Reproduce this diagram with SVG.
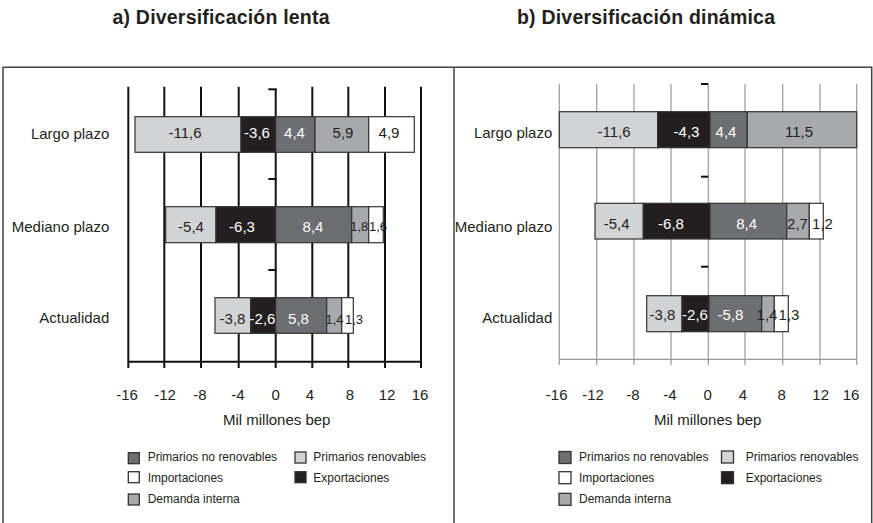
<svg xmlns="http://www.w3.org/2000/svg" width="873" height="523" viewBox="0 0 873 523">
<style>
text{font-family:"Liberation Sans",Arial,sans-serif;fill:#231f20}
.title{font-size:19.5px;font-weight:bold;text-anchor:middle}
.row{font-size:15px;text-anchor:end}
.tick{font-size:15px;text-anchor:middle}
.axt{font-size:15px;text-anchor:middle}
.lg{font-size:12px}
.bl{font-size:15px;text-anchor:middle}
.bs{font-size:13px;text-anchor:middle}
.bw{font-size:15px;text-anchor:middle;fill:#ffffff}
.seg{stroke:#333;stroke-width:1.2}
.lt{fill:#d1d3d4}.bk{fill:#231f20}.dk{fill:#6d6e71}.md{fill:#a7a9ac}.wh{fill:#ffffff}
.gridL{stroke:#111;stroke-width:2}
.gridR{stroke:#999;stroke-width:1.2}
.tk{stroke:#111;stroke-width:2}
.sq{stroke:#333;stroke-width:1.3}
</style>
<rect width="873" height="523" fill="#fff"/>
<g id="frame" fill="none" stroke="#444" stroke-width="1.5">
<polyline points="3,523 3,67.3 871.7,67.3 871.7,523"/>
<line x1="454" y1="67.3" x2="454" y2="523"/>
</g>
<text class="title" x="221" y="23.5" textLength="217">a) Diversificación lenta</text>
<text class="title" x="646" y="23.5" textLength="258">b) Diversificación dinámica</text>

<!-- LEFT CHART -->
<g id="gridLeft">
<line class="gridL" x1="128.3" y1="86.7" x2="128.3" y2="368"/>
<line class="gridL" x1="164.3" y1="86.7" x2="164.3" y2="368"/>
<line class="gridL" x1="201" y1="86.7" x2="201" y2="368"/>
<line class="gridL" x1="238.7" y1="86.7" x2="238.7" y2="368"/>
<line class="gridL" x1="275.7" y1="89.3" x2="275.7" y2="368"/>
<line class="gridL" x1="312.3" y1="86.7" x2="312.3" y2="368"/>
<line class="gridL" x1="348.3" y1="86.7" x2="348.3" y2="368"/>
<line class="gridL" x1="385" y1="86.7" x2="385" y2="368"/>
<line class="gridL" x1="421" y1="86.7" x2="421" y2="368"/>
<line class="gridL" x1="128.3" y1="361.7" x2="421" y2="361.7"/>
<line class="tk" x1="268.3" y1="89.3" x2="276.7" y2="89.3"/>
<line class="tk" x1="268.3" y1="179" x2="276.7" y2="179"/>
<line class="tk" x1="268.3" y1="270" x2="276.7" y2="270"/>
</g>
<g id="barL-largo">
<rect class="seg lt" x="135" y="116.7" width="106" height="35.6"/>
<rect class="seg bk" x="241" y="116.7" width="34.7" height="35.6"/>
<rect class="seg dk" x="275.7" y="116.7" width="39.3" height="35.6"/>
<rect class="seg md" x="315" y="116.7" width="53.7" height="35.6"/>
<rect class="seg wh" x="368.7" y="116.7" width="45.6" height="35.6"/>
<text class="row" x="109.3" y="139">Largo plazo</text>
<text class="bl" x="185" y="137.5">-11,6</text>
<text class="bw" x="257" y="137.5">-3,6</text>
<text class="bw" x="294.5" y="137.5">4,4</text>
<text class="bl" x="343" y="137.5">5,9</text>
<text class="bl" x="389" y="137.5">4,9</text>
</g>
<g id="barL-mediano">
<rect class="seg lt" x="165.7" y="206.7" width="50.3" height="36"/>
<rect class="seg bk" x="216" y="206.7" width="59.7" height="36"/>
<rect class="seg dk" x="275.7" y="206.7" width="76" height="36"/>
<rect class="seg md" x="351.7" y="206.7" width="17" height="36"/>
<rect class="seg wh" x="368.7" y="206.7" width="14.6" height="36"/>
<text class="row" x="109.3" y="231.7">Mediano plazo</text>
<text class="bl" x="191" y="231.5">-5,4</text>
<text class="bw" x="242" y="231.5">-6,3</text>
<text class="bw" x="313" y="231.5">8,4</text>
<text class="bs" x="359.3" y="231">1,8</text>
<text class="bs" x="378" y="231">1,6</text>
</g>
<g id="barL-actualidad">
<rect class="seg lt" x="215" y="297.7" width="35.7" height="35.6"/>
<rect class="seg bk" x="250.7" y="297.7" width="25" height="35.6"/>
<rect class="seg dk" x="275.7" y="297.7" width="51" height="35.6"/>
<rect class="seg md" x="326.7" y="297.7" width="15" height="35.6"/>
<rect class="seg wh" x="341.7" y="297.7" width="11.6" height="35.6"/>
<text class="row" x="109.3" y="323.3">Actualidad</text>
<text class="bl" x="232.5" y="324">-3,8</text>
<text class="bw" x="262.5" y="324">-2,6</text>
<text class="bw" x="298.5" y="324">5,8</text>
<text class="bs" x="334.5" y="323.5">1,4</text>
<text class="bs" x="354" y="323.5">1,3</text>
</g>
<g id="axisL">
<text class="tick" x="127" y="400">-16</text>
<text class="tick" x="165" y="400">-12</text>
<text class="tick" x="200" y="400">-8</text>
<text class="tick" x="238" y="400">-4</text>
<text class="tick" x="275.7" y="400">0</text>
<text class="tick" x="310" y="400">4</text>
<text class="tick" x="350" y="400">8</text>
<text class="tick" x="387" y="400">12</text>
<text class="tick" x="420" y="400">16</text>
<text class="axt" x="276.7" y="425">Mil millones bep</text>
</g>
<g id="legendL">
<rect class="sq dk" x="128.3" y="452.7" width="11" height="11"/>
<text class="lg" x="147.7" y="460.5">Primarios no renovables</text>
<rect class="sq lt" x="295" y="452" width="11" height="11"/>
<text class="lg" x="313.3" y="460.5">Primarios renovables</text>
<rect class="sq wh" x="128.3" y="471.7" width="11" height="11"/>
<text class="lg" x="147.7" y="481.5">Importaciones</text>
<rect class="sq bk" x="295" y="471.7" width="11" height="11"/>
<text class="lg" x="313.3" y="481.5">Exportaciones</text>
<rect class="sq md" x="128.3" y="494" width="11" height="11"/>
<text class="lg" x="147.7" y="503">Demanda interna</text>
</g>

<!-- RIGHT CHART -->
<g id="gridRight">
<line class="gridR" x1="559.3" y1="84" x2="559.3" y2="365"/>
<line class="gridR" x1="596.7" y1="84" x2="596.7" y2="365"/>
<line class="gridR" x1="634" y1="84" x2="634" y2="365"/>
<line class="gridR" x1="671" y1="84" x2="671" y2="365"/>
<line class="gridR" x1="708.3" y1="84" x2="708.3" y2="365"/>
<line class="gridR" x1="745" y1="84" x2="745" y2="365"/>
<line class="gridR" x1="782.7" y1="84" x2="782.7" y2="365"/>
<line class="gridR" x1="820" y1="84" x2="820" y2="365"/>
<line class="gridR" x1="856.7" y1="84" x2="856.7" y2="365"/>
<line class="gridR" x1="559.3" y1="359.3" x2="856.7" y2="359.3"/>
<line class="tk" x1="701" y1="84" x2="708.3" y2="84"/>
<line class="tk" x1="701" y1="176.7" x2="708.3" y2="176.7"/>
<line class="tk" x1="701" y1="266.7" x2="708.3" y2="266.7"/>
</g>
<g id="barR-largo">
<rect class="seg lt" x="559.3" y="111.7" width="98.4" height="36"/>
<rect class="seg bk" x="657.7" y="111.7" width="52.3" height="36"/>
<rect class="seg dk" x="710" y="111.7" width="37.3" height="36"/>
<rect class="seg md" x="747.3" y="111.7" width="109.4" height="36"/>
<text class="row" x="552.3" y="138">Largo plazo</text>
<text class="bl" x="614" y="137">-11,6</text>
<text class="bw" x="686.5" y="137">-4,3</text>
<text class="bw" x="726" y="137">4,4</text>
<text class="bl" x="799" y="137">11,5</text>
</g>
<g id="barR-mediano">
<rect class="seg lt" x="595" y="203.3" width="48.3" height="35.7"/>
<rect class="seg bk" x="643.3" y="203.3" width="66.7" height="35.7"/>
<rect class="seg dk" x="710" y="203.3" width="76.7" height="35.7"/>
<rect class="seg md" x="786.7" y="203.3" width="22.6" height="35.7"/>
<rect class="seg wh" x="809.3" y="203.3" width="14" height="35.7"/>
<text class="row" x="552.3" y="231.5">Mediano plazo</text>
<text class="bl" x="616.7" y="228.5">-5,4</text>
<text class="bw" x="671" y="228.5">-6,8</text>
<text class="bw" x="746.7" y="228.5">8,4</text>
<text class="bl" x="797.5" y="228.5">2,7</text>
<text class="bl" x="822.5" y="228.5">1,2</text>
</g>
<g id="barR-actualidad">
<rect class="seg lt" x="646.7" y="295.7" width="35.3" height="36"/>
<rect class="seg bk" x="682" y="295.7" width="27" height="36"/>
<rect class="seg dk" x="709" y="295.7" width="52.7" height="36"/>
<rect class="seg md" x="761.7" y="295.7" width="12.6" height="36"/>
<rect class="seg wh" x="774.3" y="295.7" width="14" height="36"/>
<text class="row" x="552.3" y="323">Actualidad</text>
<text class="bl" x="662.5" y="320">-3,8</text>
<text class="bw" x="695" y="320">-2,6</text>
<text class="bw" x="730.5" y="320">-5,8</text>
<text class="bl" x="767" y="320">1,4</text>
<text class="bl" x="789" y="320">1,3</text>
</g>
<g id="axisR">
<text class="tick" x="556.7" y="399.5">-16</text>
<text class="tick" x="593" y="399.5">-12</text>
<text class="tick" x="633" y="399.5">-8</text>
<text class="tick" x="670" y="399.5">-4</text>
<text class="tick" x="707.7" y="399.5">0</text>
<text class="tick" x="743" y="399.5">4</text>
<text class="tick" x="781.7" y="399.5">8</text>
<text class="tick" x="820.7" y="399.5">12</text>
<text class="tick" x="851" y="399.5">16</text>
<text class="axt" x="707.7" y="425">Mil millones bep</text>
</g>
<g id="legendR">
<rect class="sq dk" x="559" y="451.5" width="12" height="12"/>
<text class="lg" x="579" y="460.5">Primarios no renovables</text>
<rect class="sq lt" x="721.5" y="451" width="12" height="12"/>
<text class="lg" x="745.7" y="460.5">Primarios renovables</text>
<rect class="sq wh" x="559" y="471.7" width="12" height="12"/>
<text class="lg" x="579" y="481.5">Importaciones</text>
<rect class="sq bk" x="721.5" y="471.7" width="12" height="12"/>
<text class="lg" x="745.7" y="481.5">Exportaciones</text>
<rect class="sq md" x="559" y="493.3" width="12" height="12"/>
<text class="lg" x="579" y="503">Demanda interna</text>
</g>
</svg>
